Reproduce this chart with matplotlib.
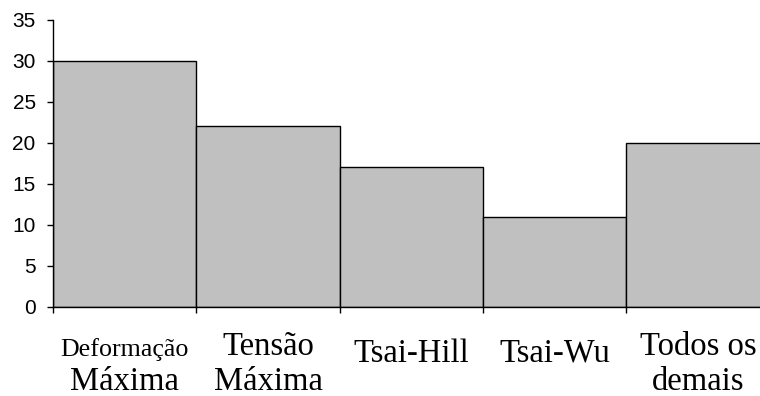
import matplotlib
matplotlib.use("Agg")
import matplotlib.pyplot as plt
import numpy as np

# critérios de falha e número de casos
criterios_l1 = ["Deformação", "Tensão", "Tsai-Hill", "Tsai-Wu", "Todos os"]
criterios_l2 = ["Máxima", "Máxima", "", "", "demais"]
valores = [30, 22, 17, 11, 20]
yticks = [0, 5, 10, 15, 20, 25, 30, 35]

plt.rcParams["font.family"] = ["Liberation Sans", "DejaVu Sans"]

fig = plt.figure(figsize=(7.6, 3.96), dpi=100)
ax = fig.add_axes([53 / 760, 89 / 396, 716.5 / 760, 287.5 / 396])

x = np.arange(len(valores))
ax.bar(x + 0.5, valores, width=1.0, color="#c0c0c0", edgecolor="black",
       linewidth=1.0, zorder=2)

ax.set_xlim(0, len(valores))
ax.set_ylim(0, 35)
ax.set_yticks(yticks)
ax.set_yticklabels([str(v) for v in yticks], fontsize=15)
ax.set_xticks(np.arange(len(valores) + 1))
ax.set_xticklabels([])

for lado in ("top", "right"):
    ax.spines[lado].set_visible(False)
for lado in ("left", "bottom"):
    ax.spines[lado].set_linewidth(1.0)
    ax.spines[lado].set_color("black")

ax.tick_params(axis="y", direction="out", length=4, width=1.0, pad=8.5)
ax.tick_params(axis="x", direction="out", length=4, width=1.0)

serif = ["Liberation Serif", "DejaVu Serif"]
for i, (l1, l2) in enumerate(zip(criterios_l1, criterios_l2)):
    if l2:
        off1 = -35.5 if i == 0 else -34.5
        size1 = 18.7 if i == 0 else 23.5
    else:
        off1 = -39.5
        size1 = 23.5
    ax.annotate(l1, xy=(i + 0.5, 0), xycoords=("data", "axes fraction"),
                xytext=(0, off1), textcoords="offset points",
                ha="center", va="baseline", fontsize=size1, family=serif)
    if l2:
        ax.annotate(l2, xy=(i + 0.5, 0), xycoords=("data", "axes fraction"),
                    xytext=(0, -60), textcoords="offset points",
                    ha="center", va="baseline", fontsize=23.5, family=serif)

fig.savefig("out.png", dpi=100)
